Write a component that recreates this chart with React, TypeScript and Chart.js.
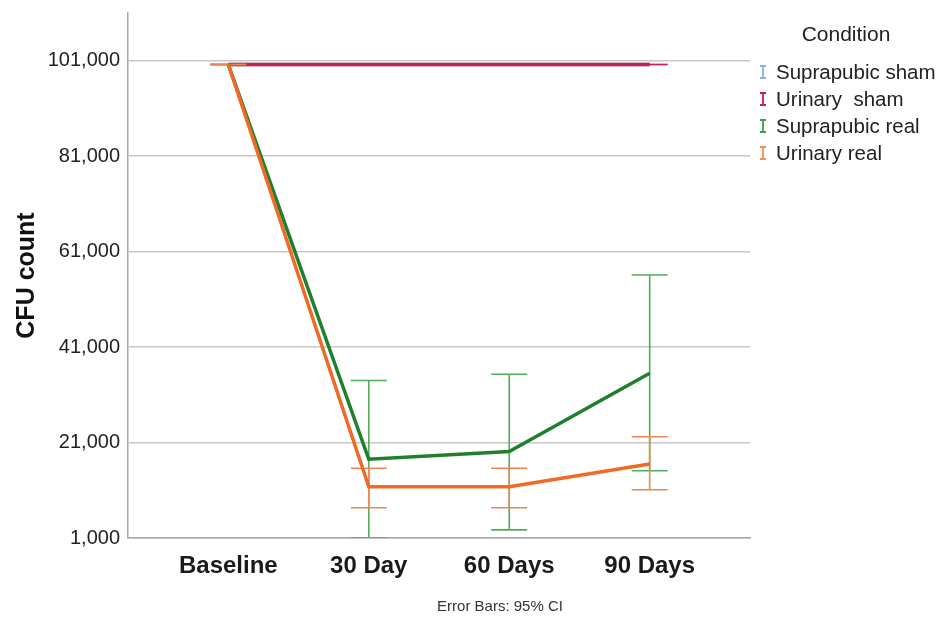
import React, { useEffect, useRef } from "react";
import { Chart, registerables } from "chart.js";

Chart.register(...registerables);

const categories = ["Baseline", "30 Day", "60 Days", "90 Days"];
const yTicks = [1000, 21000, 41000, 61000, 81000, 101000];
const legendLabels = ["Suprapubic sham", "Urinary  sham", "Suprapubic real", "Urinary real"];

const suprapubicShamMean = [100200, 100200, 100200, 100200];
const suprapubicShamLo = [100200, 100200, 100200, 100200];
const suprapubicShamHi = [100200, 100200, 100200, 100200];

const urinaryShamMean = [100200, 100200, 100200, 100200];
const urinaryShamLo = [100200, 100200, 100200, 100200];
const urinaryShamHi = [100200, 100200, 100200, 100200];

const suprapubicRealMean = [100200, 17500, 19100, 35500];
const suprapubicRealLo = [100200, 1000, 2700, 15100];
const suprapubicRealHi = [100200, 34000, 35300, 56100];

const urinaryRealMean = [100200, 11750, 11750, 16500];
const urinaryRealLo = [100200, 7350, 7350, 11100];
const urinaryRealHi = [100200, 15600, 15600, 22200];

const FONT = "'Liberation Sans', Arial, Helvetica, sans-serif";
const CAP = 0.128;

const COLORS = {
  supraSham: "#8ab4e8",
  urinSham: "#c81f4c",
  supraReal: "#1f7f2c",
  supraRealErr: "#4fae57",
  urinReal: "#f06a25",
  urinRealErr: "#f08552",
};
const legendColors = [COLORS.supraSham, COLORS.urinSham, "#3aa04a", "#f09050"];

function line(mean: number[]) {
  return mean.map((v, i) => ({ x: i, y: v }));
}

function errBars(lo: number[], hi: number[]) {
  const pts: { x: number; y: number | null }[] = [];
  lo.forEach((l, i) => {
    const h = hi[i];
    pts.push({ x: i, y: l }, { x: i, y: h }, { x: i, y: null });
    pts.push({ x: i - CAP, y: h }, { x: i + CAP, y: h }, { x: i, y: null });
    pts.push({ x: i - CAP, y: l }, { x: i + CAP, y: l }, { x: i, y: null });
  });
  return pts;
}

const extrasPlugin = {
  id: "extras",
  afterDraw(chart: any) {
    const ctx = chart.ctx;
    ctx.save();
    ctx.fillStyle = "#222";
    ctx.textBaseline = "middle";
    ctx.textAlign = "center";
    ctx.font = `21px ${FONT}`;
    ctx.fillText("Condition", 846, 35);
    ctx.textAlign = "left";
    legendLabels.forEach((lab, i) => {
      const y = 72 + 27 * i;
      const x = 763;
      ctx.strokeStyle = legendColors[i];
      ctx.lineWidth = 1.8;
      ctx.beginPath();
      ctx.moveTo(x, y - 6);
      ctx.lineTo(x, y + 6);
      ctx.moveTo(x - 3, y - 6);
      ctx.lineTo(x + 3, y - 6);
      ctx.moveTo(x - 3, y + 6);
      ctx.lineTo(x + 3, y + 6);
      ctx.stroke();
      ctx.fillStyle = "#222";
      ctx.font = `20.5px ${FONT}`;
      ctx.fillText(lab, 776, y + 1);
    });
    ctx.textAlign = "center";
    ctx.font = `15px ${FONT}`;
    ctx.fillStyle = "#333";
    ctx.fillText("Error Bars: 95% CI", 500, 607);
    ctx.restore();
  },
};

export default function App() {
  const ref = useRef<HTMLCanvasElement | null>(null);

  useEffect(() => {
    if (!ref.current) return;
    const mk = (label: string, data: any, color: string, width: number, order: number) => ({
      label,
      data,
      borderColor: color,
      backgroundColor: color,
      borderWidth: width,
      pointRadius: 0,
      tension: 0,
      spanGaps: false,
      fill: false,
      order,
    });
    const chart = new Chart(ref.current, {
      type: "line",
      data: {
        datasets: [
          mk("Urinary real", line(urinaryRealMean), COLORS.urinReal, 3.5, 0),
          mk("Suprapubic real", line(suprapubicRealMean), COLORS.supraReal, 3.5, 1),
          mk("Urinary real CI", errBars(urinaryRealLo, urinaryRealHi), COLORS.urinRealErr, 1.6, 2),
          mk("Suprapubic real CI", errBars(suprapubicRealLo, suprapubicRealHi), COLORS.supraRealErr, 1.6, 3),
          mk("Urinary sham", line(urinaryShamMean), COLORS.urinSham, 3.5, 4),
          mk("Urinary sham CI", errBars(urinaryShamLo, urinaryShamHi), COLORS.urinSham, 1.6, 5),
          mk("Suprapubic sham", line(suprapubicShamMean), COLORS.supraSham, 3.5, 6),
          mk("Suprapubic sham CI", errBars(suprapubicShamLo, suprapubicShamHi), COLORS.supraSham, 1.6, 7),
        ],
      },
      options: {
        animation: false,
        responsive: false,
        maintainAspectRatio: false,
        layout: { padding: { left: 0, right: 189, top: 13, bottom: 0 } },
        plugins: {
          legend: { display: false },
          tooltip: { enabled: false },
        },
        scales: {
          x: {
            type: "linear",
            min: -100 / 140,
            max: 3 + 100 / 140,
            afterBuildTicks: (s: any) => {
              s.ticks = categories.map((_, i) => ({ value: i }));
            },
            afterFit: (s: any) => {
              s.height = 79;
              s.paddingLeft = 0;
              s.paddingRight = 0;
            },
            ticks: {
              autoSkip: false,
              maxRotation: 0,
              padding: 14,
              color: "#1a1a1a",
              font: { family: FONT, size: 24, weight: "bold" },
              callback: (v: any) => categories[Math.round(Number(v))] ?? "",
            },
            grid: { display: false, drawTicks: false },
            border: { display: true, color: "#a8a8a8", width: 1.5 },
          },
          y: {
            type: "linear",
            min: 1000,
            max: 111000,
            afterBuildTicks: (s: any) => {
              s.ticks = yTicks.map((v) => ({ value: v }));
            },
            afterFit: (s: any) => {
              s.width = 128;
              s.paddingTop = 0;
              s.paddingBottom = 0;
            },
            ticks: {
              padding: 8,
              color: "#222",
              font: { family: FONT, size: 20 },
              callback: (v: any) => Number(v).toLocaleString("en-US"),
            },
            grid: { color: "#c8c8c8", lineWidth: 1.5, drawTicks: false },
            border: { display: true, color: "#a8a8a8", width: 1.5 },
            title: {
              display: true,
              text: "CFU count",
              color: "#111",
              font: { family: FONT, size: 25, weight: "bold" },
              padding: { top: 12, bottom: 0 },
            },
          },
        },
      },
      plugins: [extrasPlugin],
    } as any);
    return () => chart.destroy();
  }, []);

  return (
    <div style={{ position: "absolute", left: 0, top: 0, width: 939, height: 617, background: "#fff" }}>
      <canvas ref={ref} width={939} height={617} style={{ display: "block", width: 939, height: 617 }} />
    </div>
  );
}
